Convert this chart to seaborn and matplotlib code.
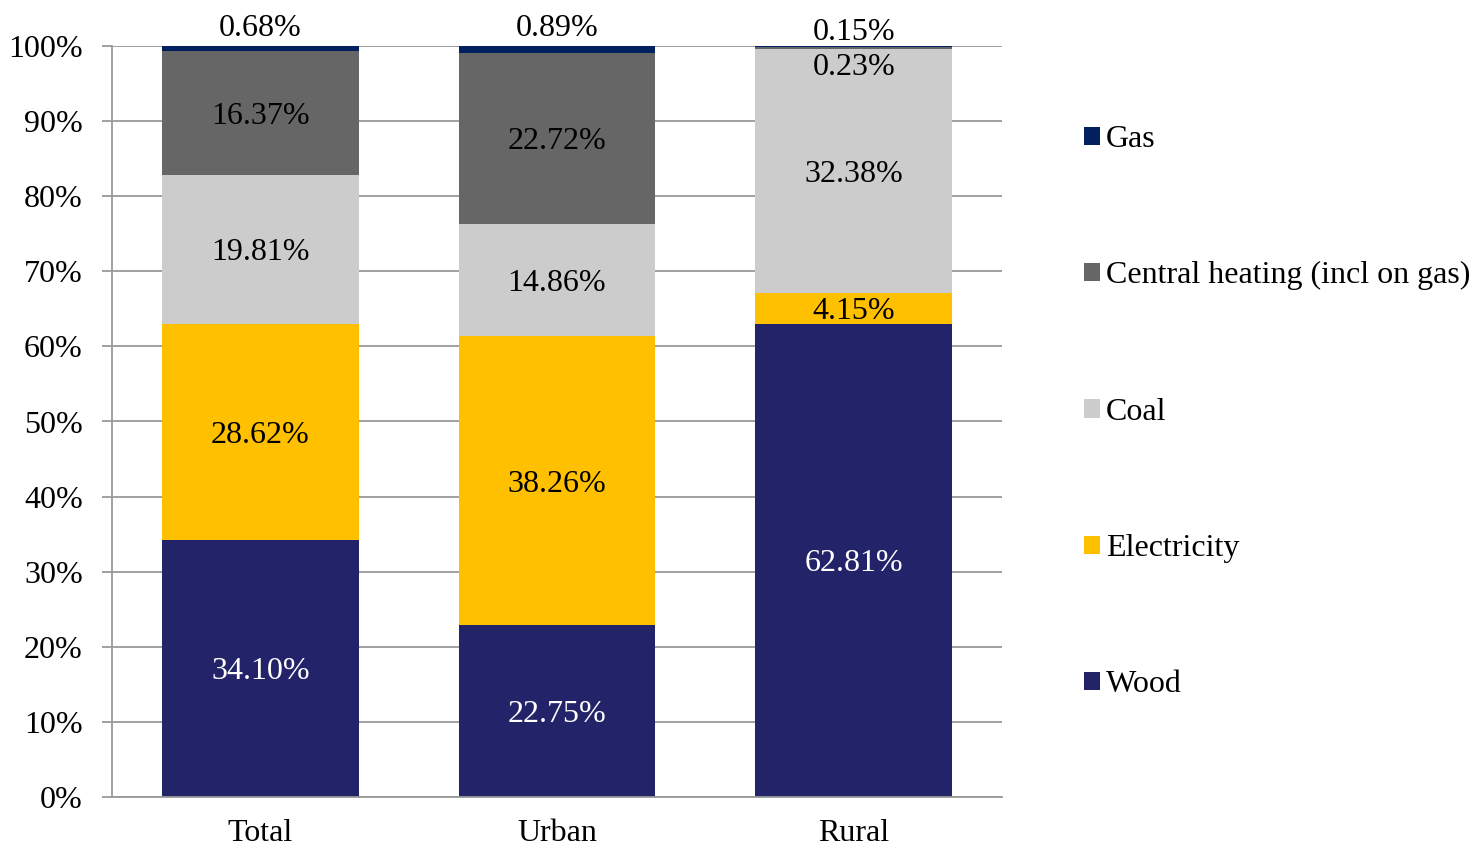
import numpy as np
import pandas as pd
import matplotlib
matplotlib.use("Agg")
import matplotlib.pyplot as plt
from matplotlib.patches import Patch
import seaborn as sns

categories = ["Total", "Urban", "Rural"]
series = ["Wood", "Electricity", "Coal", "Central heating (incl on gas)", "Gas"]
wood = [34.10, 22.75, 62.81]
electricity = [28.62, 38.26, 4.15]
coal = [19.81, 14.86, 32.38]
central = [16.37, 22.72, 0.23]
gas = [0.68, 0.89, 0.15]
colors = ["#232369", "#FFC000", "#CCCCCC", "#666666", "#002060"]

sns.set_theme(style="white", rc={"text.color": "black", "xtick.color": "black",
                                 "ytick.color": "black", "axes.labelcolor": "black"})
plt.rcParams['font.family'] = ['Liberation Serif', 'DejaVu Serif']

FS = 23

vals = np.array([wood, electricity, coal, central, gas])
share = vals / vals.sum(axis=0) * 100
cum = np.cumsum(share, axis=0)

fig = plt.figure(figsize=(14.74, 8.47), dpi=100)
ax = fig.add_axes([112/1474, 1-797/847, (1002-112)/1474, (797-46)/847])

for i in range(len(series) - 1, -1, -1):
    df = pd.DataFrame({"cat": categories, "val": cum[i]})
    sns.barplot(data=df, x="cat", y="val", color=colors[i], width=0.664,
                saturation=1, ax=ax, order=categories, zorder=2, linewidth=0,
                edgecolor="none")

ax.set_ylim(0, 100)
ax.set_xlim(-0.5, 2.5)
ax.set_yticks(np.arange(0, 101, 10))
ax.set_yticklabels([f"{v}%" for v in range(0, 101, 10)])
ax.set_xlabel("")
ax.set_ylabel("")
ax.yaxis.grid(True, color="#999999", linewidth=1.3)
ax.set_axisbelow(True)
for s in ["top", "right"]:
    ax.spines[s].set_visible(False)
for s in ["left", "bottom"]:
    ax.spines[s].set_color("#999999")
    ax.spines[s].set_linewidth(1.3)
ax.set_xticks([-0.5, 0.5, 1.5, 2.5], minor=True)
ax.tick_params(axis="x", which="major", length=0, labelsize=FS, pad=16, labelcolor="black")
ax.tick_params(axis="x", which="minor", length=7, width=1.3, color="#999999", direction="out")
ax.tick_params(axis="y", length=7, width=1.3, color="#999999", labelsize=FS, pad=14,
               direction="out", left=True, labelcolor="black")

# labels
for j in range(3):
    for i in range(len(series)):
        y = cum[i, j] - share[i, j] / 2
        txt = f"{vals[i, j]:.2f}%"
        col = "white" if i == 0 else "black"
        if i == 4:
            y = 102.8 if j < 2 else 102.3
        if i == 3 and j == 2:
            y = 97.6
        ax.text(j, y, txt, ha="center", va="center_baseline", fontsize=FS, color=col,
                clip_on=False)

handles = [Patch(facecolor=colors[i], edgecolor="none") for i in range(len(series) - 1, -1, -1)]
labels = [series[i] for i in range(len(series) - 1, -1, -1)]
fig.legend(handles, labels, loc="upper left", bbox_to_anchor=(1084/1474, 1-125/847),
           frameon=False, fontsize=FS, labelspacing=3.36, handlelength=0.5, handleheight=0.5,
           handletextpad=0.19, borderaxespad=0, borderpad=0, labelcolor="black")

fig.savefig("out.png", dpi=100)
